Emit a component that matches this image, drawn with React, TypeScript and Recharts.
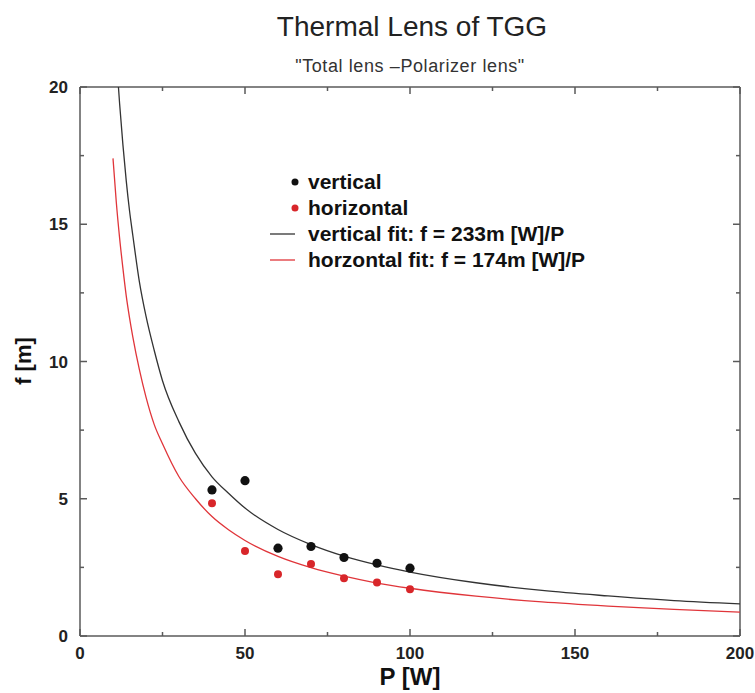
import React from 'react';
import { ComposedChart, Line, Scatter, XAxis, YAxis, ReferenceLine, Legend } from 'recharts';

// measured points
const verticalP = [40, 50, 60, 70, 80, 90, 100];
const verticalF = [5.32, 5.66, 3.2, 3.26, 2.86, 2.65, 2.47];
const horizontalP = [40, 50, 60, 70, 80, 90, 100];
const horizontalF = [4.84, 3.1, 2.25, 2.62, 2.1, 1.95, 1.7];

// fit curves
const vFitP = [11.65, 12, 13, 14, 15, 16, 18, 20, 22.5, 25, 30, 35, 40, 45, 50, 60, 70, 80, 90, 100, 120, 140, 160, 180, 200];
const vFitF = [20, 19.4, 17.9, 16.6, 15.5, 14.6, 12.9, 11.65, 10.4, 9.3, 7.8, 6.65, 5.8, 5.2, 4.66, 3.88, 3.33, 2.91, 2.59, 2.33, 1.94, 1.66, 1.46, 1.29, 1.17];
const hFitP = [10, 11, 12, 13, 14, 15, 16, 18, 20, 22.5, 25, 30, 35, 40, 45, 50, 60, 70, 80, 90, 100, 120, 140, 160, 180, 200];
const hFitF = [17.4, 15.8, 14.5, 13.4, 12.4, 11.6, 10.9, 9.7, 8.7, 7.7, 7.0, 5.8, 5.0, 4.35, 3.87, 3.48, 2.9, 2.49, 2.18, 1.93, 1.74, 1.45, 1.24, 1.09, 0.97, 0.87];

const xTicks = [0, 25, 50, 75, 100, 125, 150, 175, 200];
const xLabels = [0, 50, 100, 150, 200];
const yTicks = [0, 2.5, 5, 7.5, 10, 12.5, 15, 17.5, 20];
const yLabels = [0, 5, 10, 15, 20];

const legendItems = [
  { name: 'vertical', kind: 'dot', color: '#111' },
  { name: 'horizontal', kind: 'dot', color: '#d8262a' },
  { name: 'vertical fit: f = 233m [W]/P', kind: 'line', color: '#333' },
  { name: 'horzontal fit: f = 174m [W]/P', kind: 'line', color: '#e0353a' },
];

const toPoints = (ps: number[], fs: number[]) => ps.map((p, i) => ({ p, f: fs[i] }));

const verticalData = toPoints(verticalP, verticalF);
const horizontalData = toPoints(horizontalP, horizontalF);
const vFitData = toPoints(vFitP, vFitF);
const hFitData = toPoints(hFitP, hFitF);

const W = 755;
const H = 693;
const PLOT_W = 660;
const PLOT_H = 549;
const AXIS = '#5a5a5a';
const FONT = '"Liberation Sans", Arial, sans-serif';

const XTick = (props: any) => {
  const { x, y, payload } = props;
  const major = xLabels.includes(payload.value);
  const len = major ? 7 : 4;
  return (
    <g>
      <line x1={x} y1={y} x2={x} y2={y - len} stroke={AXIS} strokeWidth={1.5} />
      <line x1={x} y1={y - PLOT_H} x2={x} y2={y - PLOT_H + len} stroke={AXIS} strokeWidth={1.5} />
      {major && (
        <text x={x} y={y + 23} textAnchor="middle" fontFamily={FONT} fontWeight="bold" fontSize={17} fill="#222">
          {payload.value}
        </text>
      )}
    </g>
  );
};

const YTick = (props: any) => {
  const { x, y, payload } = props;
  const major = yLabels.includes(payload.value);
  const len = major ? 7 : 4;
  return (
    <g>
      <line x1={x} y1={y} x2={x + len} y2={y} stroke={AXIS} strokeWidth={1.5} />
      <line x1={x + PLOT_W} y1={y} x2={x + PLOT_W - len} y2={y} stroke={AXIS} strokeWidth={1.5} />
      {major && (
        <text x={x - 12} y={y + 6} textAnchor="end" fontFamily={FONT} fontWeight="bold" fontSize={17} fill="#222">
          {payload.value}
        </text>
      )}
    </g>
  );
};

const BlackDot = (props: any) => <circle cx={props.cx} cy={props.cy} r={4.6} fill="#111" />;
const RedDot = (props: any) => <circle cx={props.cx} cy={props.cy} r={4} fill="#d8262a" />;

const renderLegend = () => (
  <div style={{ fontFamily: FONT, fontWeight: 'bold', fontSize: 21, color: '#111' }}>
    {legendItems.map((it) => (
      <div key={it.name} style={{ display: 'flex', alignItems: 'center', height: 26, whiteSpace: 'nowrap' }}>
        <svg width={40} height={26}>
          {it.kind === 'dot' ? (
            <circle cx={27} cy={13} r={3.5} fill={it.color} />
          ) : (
            <line x1={2} y1={13} x2={27} y2={13} stroke={it.color} strokeWidth={1.3} />
          )}
        </svg>
        <span>{it.name}</span>
      </div>
    ))}
  </div>
);

export default function App() {
  return (
    <div style={{ position: 'absolute', left: 0, top: 0, width: W, height: H, background: '#fff' }}>
      <ComposedChart width={W} height={H} margin={{ top: 87, right: 15, bottom: 0, left: 0 }}>
        <XAxis
          type="number"
          dataKey="p"
          domain={[0, 200]}
          ticks={xTicks}
          allowDataOverflow
          height={57}
          tickSize={0}
          tickMargin={0}
          tickLine={false}
          axisLine={{ stroke: AXIS, strokeWidth: 1.5 }}
          tick={<XTick />}
          interval={0}
        />
        <YAxis
          type="number"
          dataKey="f"
          domain={[0, 20]}
          ticks={yTicks}
          allowDataOverflow
          width={80}
          tickSize={0}
          tickMargin={0}
          tickLine={false}
          axisLine={{ stroke: AXIS, strokeWidth: 1.5 }}
          tick={<YTick />}
          interval={0}
        />
        <ReferenceLine y={20} stroke={AXIS} strokeWidth={1.5} />
        <ReferenceLine x={200} stroke={AXIS} strokeWidth={1.5} />
        <Line data={vFitData} dataKey="f" type="monotone" stroke="#333" strokeWidth={1.3} dot={false} isAnimationActive={false} />
        <Line data={hFitData} dataKey="f" type="monotone" stroke="#e0353a" strokeWidth={1.3} dot={false} isAnimationActive={false} />
        <Scatter data={verticalData} dataKey="f" shape={<BlackDot />} isAnimationActive={false} />
        <Scatter data={horizontalData} dataKey="f" shape={<RedDot />} isAnimationActive={false} />
        <Legend
          layout="vertical"
          align="center"
          verticalAlign="middle"
          content={renderLegend}
          wrapperStyle={{ left: 268, top: 169, width: 360, height: 110 }}
        />
        <text x={412} y={36} textAnchor="middle" fontFamily={FONT} fontSize={28} fill="#222">
          Thermal Lens of TGG
        </text>
        <text x={410} y={72} textAnchor="middle" fontFamily={FONT} fontSize={18} letterSpacing={0.6} fill="#333">
          "Total lens –Polarizer lens"
        </text>
        <text x={410} y={685} textAnchor="middle" fontFamily={FONT} fontWeight="bold" fontSize={24} fill="#111">
          P [W]
        </text>
        <text
          x={31}
          y={361}
          textAnchor="middle"
          transform="rotate(-90 31 361)"
          fontFamily={FONT}
          fontWeight="bold"
          fontSize={22}
          fill="#111"
        >
          f [m]
        </text>
      </ComposedChart>
    </div>
  );
}
